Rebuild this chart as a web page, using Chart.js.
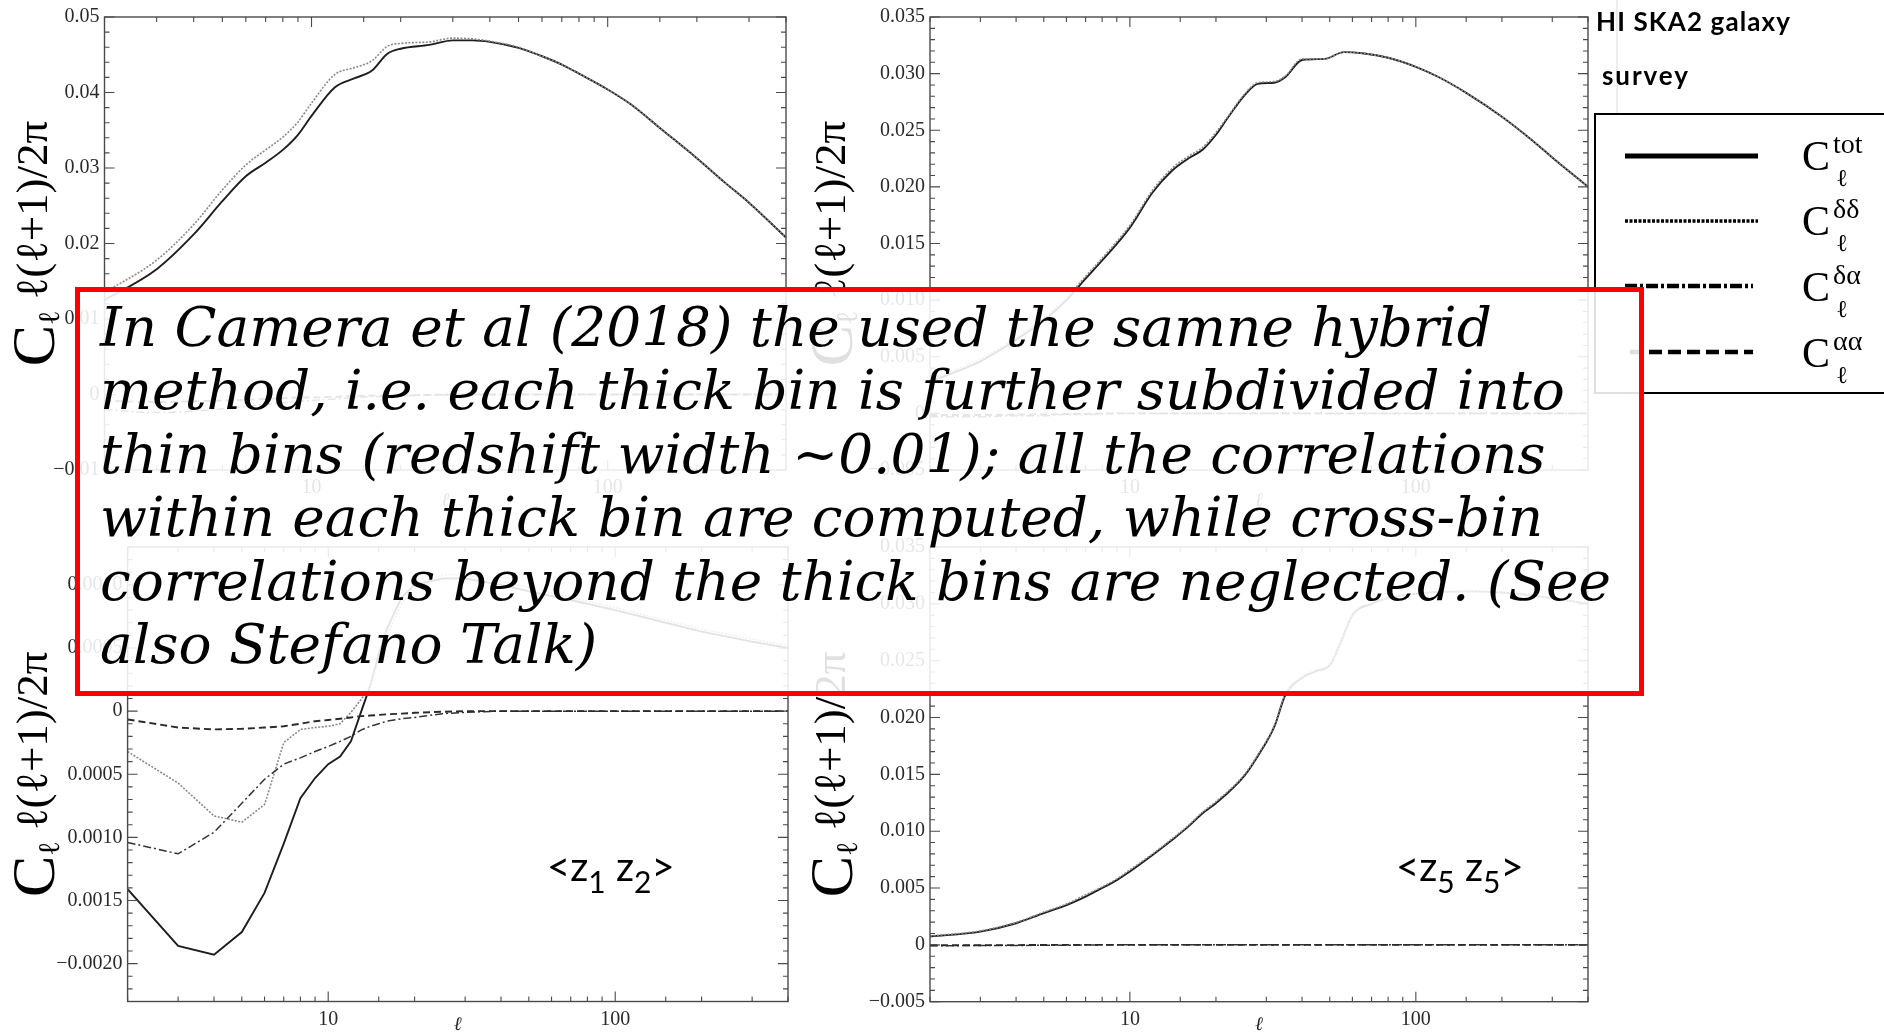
<!DOCTYPE html>
<html><head><meta charset="utf-8">
<title>HI SKA2 galaxy survey - angular power spectra</title>
<script src="https://cdn.jsdelivr.net/npm/chart.js@4.4.1/dist/chart.umd.min.js"></script>
<style>
html,body{margin:0;padding:0;background:#fff;}
body{width:1884px;height:1034px;position:relative;overflow:hidden;}
.panel{position:absolute;}
.panel canvas{display:block;}
#overlay{position:absolute;left:0;top:0;}
#box{position:absolute;left:75px;top:287px;width:1569px;height:409px;box-sizing:border-box;border:5px solid #ff0000;background:rgba(255,255,255,0.88);}
#box div{position:absolute;left:20px;white-space:nowrap;font-family:'DejaVu Serif',serif;font-style:italic;line-height:1;color:#000;}
</style></head><body>
<div class="panel" style="left:0px;top:0px"><canvas id="c0" width="800" height="510"></canvas></div>
<div class="panel" style="left:800px;top:0px"><canvas id="c1" width="800" height="510"></canvas></div>
<div class="panel" style="left:0px;top:530px"><canvas id="c2" width="800" height="504"></canvas></div>
<div class="panel" style="left:800px;top:530px"><canvas id="c3" width="800" height="504"></canvas></div>

<svg id="overlay" width="1884" height="1034" xmlns="http://www.w3.org/2000/svg">
  <line x1="1617" y1="0" x2="1617" y2="114" stroke="#dcdcdc" stroke-width="1"/>
  <text x="1596" y="31" font-family="Lato" font-weight="bold" font-size="26" textLength="194" lengthAdjust="spacing" fill="#000">HI SKA2 galaxy</text>
  <text x="1602" y="85" font-family="Lato" font-weight="bold" font-size="26" textLength="86" lengthAdjust="spacing" fill="#000">survey</text>
  <rect x="1595" y="114" width="300" height="279" fill="#fff" stroke="#000" stroke-width="2"/>
  <line x1="1625" y1="156" x2="1758" y2="156" stroke="#000" stroke-width="5"/>
  <line x1="1625" y1="221" x2="1758" y2="221" stroke="#000" stroke-width="3.5" stroke-dasharray="3 1.5"/>
  <line x1="1625" y1="286" x2="1753" y2="286" stroke="#000" stroke-width="4.5" stroke-dasharray="12 3 3 3"/>
  <line x1="1630" y1="352" x2="1753" y2="352" stroke="#000" stroke-width="4.5" stroke-dasharray="13 6"/>
  <g font-family="'Liberation Serif', serif" fill="#000">
    <text x="1802" y="170" font-size="42">C</text>
    <text x="1833" y="153" font-size="28">tot</text>
    <text x="1836" y="186" font-size="24">ℓ</text>
    <text x="1802" y="235" font-size="42">C</text>
    <text x="1833" y="218" font-size="28">δδ</text>
    <text x="1836" y="251" font-size="24">ℓ</text>
    <text x="1802" y="301" font-size="42">C</text>
    <text x="1833" y="284" font-size="28">δα</text>
    <text x="1836" y="317" font-size="24">ℓ</text>
    <text x="1802" y="367" font-size="42">C</text>
    <text x="1833" y="350" font-size="28">αα</text>
    <text x="1836" y="383" font-size="24">ℓ</text>
  </g>
  <text x="547" y="881" font-family="Lato" font-size="40" fill="#000">&lt;z<tspan font-size="30" dy="12">1</tspan><tspan dy="-12"> z</tspan><tspan font-size="30" dy="12">2</tspan><tspan dy="-12">&gt;</tspan></text>
  <text x="1396" y="881" font-family="Lato" font-size="40" fill="#000">&lt;z<tspan font-size="30" dy="12">5</tspan><tspan dy="-12"> z</tspan><tspan font-size="30" dy="12">5</tspan><tspan dy="-12">&gt;</tspan></text>
</svg>

<div id="box"></div>

<script>
// ---------------- DATA ----------------
const xTickLabels = [10, 100];

// top-left panel
const ellTL = [2,3,4,5,6,7,8,9,10,12,14,16,18,20,25,30,35,40,50,60,70,80,100,120,150,200,250,300,400];
const totTL = [0.0125,0.0166,0.0212,0.0256,0.0289,0.0307,0.0324,0.0344,0.0369,0.0407,0.0419,0.0429,0.0451,0.0458,0.0463,0.0469,0.0469,0.0467,0.0459,0.0448,0.0437,0.0425,0.0404,0.0384,0.0353,0.0313,0.0280,0.0254,0.0208];
const ddTL  = [0.0135,0.0178,0.0225,0.0271,0.0304,0.0324,0.0341,0.0361,0.0386,0.0424,0.0433,0.0442,0.0461,0.0465,0.0467,0.0472,0.0471,0.0468,0.0460,0.0448,0.0437,0.0425,0.0404,0.0384,0.0353,0.0313,0.0280,0.0254,0.0208];
const daTL  = [-0.0020,-0.0024,-0.0022,-0.0019,-0.0016,-0.0013,-0.0011,-0.0009,-0.0008,-0.0006,-0.0004,-0.0003,-0.0002,-0.00015,-0.0001,-0.00005,0,0,0,0,0,0,0,0,0,0,0,0,0];
const aaTL  = [-0.0008,-0.0010,-0.0009,-0.0008,-0.0007,-0.0006,-0.0005,-0.0004,-0.0004,-0.0003,-0.0002,-0.00015,-0.0001,-0.0001,-0.00005,0,0,0,0,0,0,0,0,0,0,0,0,0,0];
const yTicksTL  = [-0.01,0,0.01,0.02,0.03,0.04,0.05];
const yLabelsTL = ['−0.01','0','0.01','0.02','0.03','0.04','0.05'];

// top-right panel
const ellTR = [2,3,4,5,6,7,8,10,12,14,16,18,20,22,25,28,32,35,40,48,56,65,80,100,120,150,200,250,300,400];
const totTR = [0.0028,0.0046,0.0065,0.0082,0.0100,0.0119,0.0135,0.0164,0.0195,0.0214,0.0225,0.0233,0.0246,0.0261,0.0280,0.0291,0.0292,0.0297,0.0312,0.0313,0.0319,0.0318,0.0314,0.0306,0.0297,0.0283,0.0262,0.0243,0.0226,0.0200];
const ddTR  = [0.0030,0.0048,0.0067,0.0084,0.0102,0.0121,0.0137,0.0166,0.0197,0.0216,0.0227,0.0235,0.0248,0.0262,0.0281,0.0292,0.0293,0.0298,0.0313,0.0313,0.0319,0.0318,0.0314,0.0306,0.0297,0.0283,0.0262,0.0243,0.0226,0.0200];
const daTR  = [-0.0003,-0.0003,-0.0002,-0.0002,-0.0001,-0.0001,-0.00005,0,0,0,0,0,0,0,0,0,0,0,0,0,0,0,0,0,0,0,0,0,0,0];
const aaTR  = [-0.00015,-0.00015,-0.0001,-0.0001,-0.00005,-0.00005,0,0,0,0,0,0,0,0,0,0,0,0,0,0,0,0,0,0,0,0,0,0,0,0];
const yTicksTR  = [-0.005,0,0.005,0.010,0.015,0.020,0.025,0.030,0.035];
const yLabelsTR = ['−0.005','0','0.005','0.010','0.015','0.020','0.025','0.030','0.035'];

// bottom-left panel  <z1 z2>
const ellBL = [2,3,4,5,6,7,8,9,10,11,12,13,14,15,16,18,20,25,30,40,50,70,100,150,200,300,400];
const totBL = [-0.00141,-0.00186,-0.00193,-0.00175,-0.00144,-0.00105,-0.00069,-0.00053,-0.00042,-0.00036,-0.00024,-0.00001,0.0002,0.00045,0.00065,0.0009,0.0010,0.00105,0.00105,0.0010,0.00095,0.00088,0.0008,0.0007,0.00063,0.00055,0.0005];
const ddBL  = [-0.00032,-0.00057,-0.00083,-0.00088,-0.00074,-0.00025,-0.000145,-0.00013,-0.00012,-0.0001,-0.00001,0.00009,0.0002,0.0004,0.0006,0.00085,0.001,0.00108,0.00108,0.00103,0.00098,0.0009,0.00082,0.00072,0.00065,0.00057,0.00052];
const daBL  = [-0.00104,-0.00113,-0.00096,-0.00073,-0.00054,-0.00042,-0.00037,-0.00032,-0.00028,-0.00024,-0.0002,-0.00015,-0.00012,-0.0001,-0.00008,-0.00006,-0.00005,-0.00002,-0.00001,0,0,0,0,0,0,0,0];
const aaBL  = [-0.000066,-0.00013,-0.000145,-0.00014,-0.00013,-0.00012,-0.0001,-0.00008,-0.00007,-0.00006,-0.00005,-0.00004,-0.000035,-0.00003,-0.000025,-0.00002,-0.000013,-0.000005,0,0,0,0,0,0,0,0,0];
const yTicksBL  = [-0.002,-0.0015,-0.001,-0.0005,0,0.0005,0.001];
const yLabelsBL = ['−0.0020','0.0015','0.0010','0.0005','0','0.0005','0.0010'];

// bottom-right panel  <z5 z5>
const ellBR = [2,3,4,5,6,7,8,9,10,12,14,16,18,20,25,28,32,35,40,45,50,55,60,70,80,100,150,200,300,400];
const totBR = [0.00073,0.00117,0.0019,0.0028,0.0035,0.00425,0.0050,0.0057,0.00645,0.0079,0.0092,0.0104,0.0116,0.01246,0.0148,0.0166,0.0192,0.0220,0.0235,0.0241,0.0246,0.0268,0.0290,0.0300,0.0305,0.0309,0.0311,0.0310,0.0305,0.0300];
const ddBR  = [0.00078,0.00123,0.00197,0.00288,0.0036,0.0044,0.0051,0.0058,0.0066,0.0080,0.0093,0.0105,0.0117,0.0126,0.0149,0.0167,0.0193,0.0221,0.0236,0.0242,0.0247,0.0269,0.0291,0.0301,0.0305,0.0309,0.0311,0.0310,0.0305,0.0300];
const daBR  = [-0.00008,-0.00006,-0.00005,-0.00004,-0.00003,-0.00002,0,0,0,0,0,0,0,0,0,0,0,0,0,0,0,0,0,0,0,0,0,0,0,0];
const aaBR  = [-0.00004,-0.00003,-0.00002,-0.00001,0,0,0,0,0,0,0,0,0,0,0,0,0,0,0,0,0,0,0,0,0,0,0,0,0,0];
const yTicksBR  = [-0.005,0,0.005,0.010,0.015,0.020,0.025,0.030,0.035];
const yLabelsBR = ['−0.005','0','0.005','0.010','0.015','0.020','0.025','0.030','0.035'];

const boxLines = [
  'In Camera et al (2018) the used the samne hybrid',
  'method, i.e. each thick bin is further subdivided into',
  'thin bins (redshift width ~0.01); all the correlations',
  'within each thick bin are computed, while cross-bin',
  'correlations beyond the thick bins are neglected. (See',
  'also Stefano Talk)'
];

// ---------------- STYLE / LAYOUT ----------------
const seriesStyle = {
  aa:  {label:'Cℓ αα',  color:'#2a2a2a', width:1.9, dash:[7,4]},
  da:  {label:'Cℓ δα',  color:'#333333', width:1.5, dash:[8,3,2,3]},
  dd:  {label:'Cℓ δδ',  color:'#8a8a8a', width:1.6, dash:[2,1.5]},
  tot: {label:'Cℓ tot', color:'#1e1e1e', width:1.9, dash:[]}
};

const panels = [
  {canvas:'c0', yW:104.5, padTop:16, padRight:14, xH:40, ymin:-0.01, ymax:0.05, minor:0.002, yTicks:yTicksTL, yLabels:yLabelsTL,
   ell:ellTL, s:{aa:aaTL, da:daTL, dd:ddTL, tot:totTL}, smooth:true, titleX:37},
  {canvas:'c1', yW:130, padTop:16, padRight:12, xH:40, ymin:-0.005, ymax:0.035, minor:0.001, yTicks:yTicksTR, yLabels:yLabelsTR,
   ell:ellTR, s:{aa:aaTR, da:daTR, dd:ddTR, tot:totTR}, smooth:true, titleX:35},
  {canvas:'c2', yW:127.6, padTop:17, padRight:12, xH:32.5, ymin:-0.0023, ymax:0.0013, minor:0.0001, yTicks:yTicksBL, yLabels:yLabelsBL,
   ell:ellBL, s:{aa:aaBL, da:daBL, dd:ddBL, tot:totBL}, smooth:false, titleX:37},
  {canvas:'c3', yW:130, padTop:16, padRight:12, xH:32.3, ymin:-0.005, ymax:0.035, minor:0.001, yTicks:yTicksBR, yLabels:yLabelsBR,
   ell:ellBR, s:{aa:aaBR, da:daBR, dd:ddBR, tot:totBR}, smooth:true, titleX:35}
];

const framePlugin = {
  id: 'frameTicks',
  afterDatasetsDraw(chart, args, o) {
    const {ctx, chartArea: a} = chart;
    const xs = chart.scales.x, ys = chart.scales.y;
    ctx.save();
    ctx.strokeStyle = '#4a4a4a';
    ctx.lineWidth = 1.4;
    ctx.strokeRect(a.left, a.top, a.right - a.left, a.bottom - a.top);
    ctx.lineWidth = 1.1;
    ctx.beginPath();
    xs.ticks.forEach(t => {
      const lg = Math.log10(t.value);
      const major = Math.abs(lg - Math.round(lg)) < 1e-6;
      const L = major ? 10 : 5;
      const px = xs.getPixelForValue(t.value);
      ctx.moveTo(px, a.bottom); ctx.lineTo(px, a.bottom - L);
      ctx.moveTo(px, a.top); ctx.lineTo(px, a.top + L);
    });
    const step = o.minor;
    const n0 = Math.ceil(ys.min / step - 1e-6), n1 = Math.floor(ys.max / step + 1e-6);
    for (let n = n0; n <= n1; n++) {
      const v = n * step;
      const major = ys.ticks.some(t => Math.abs(t.value - v) < step * 1e-3);
      const L = major ? 10 : 5;
      const py = ys.getPixelForValue(v);
      ctx.moveTo(a.left, py); ctx.lineTo(a.left + L, py);
      ctx.moveTo(a.right, py); ctx.lineTo(a.right - L, py);
    }
    ctx.stroke();

    // rotated y-axis title  C_ℓ ℓ(ℓ+1)/2π
    const parts = [
      {t:'C', f:"62px 'Liberation Serif', serif", dy:17},
      {t:'ℓ', f:"30px 'Liberation Serif', serif", dy:22},
      {t:' ℓ(ℓ+1)/2π', f:"45px 'Liberation Serif', serif", dy:10}
    ];
    let total = 0;
    parts.forEach(p => { ctx.font = p.f; p.w = ctx.measureText(p.t).width; total += p.w; });
    ctx.translate(o.titleX, (a.top + a.bottom) / 2);
    ctx.rotate(-Math.PI / 2);
    ctx.fillStyle = '#000';
    ctx.textBaseline = 'alphabetic';
    ctx.textAlign = 'left';
    let xx = -total / 2;
    parts.forEach(p => { ctx.font = p.f; ctx.fillText(p.t, xx, p.dy); xx += p.w; });
    ctx.restore();
  }
};

const tickFont = {family:"'Liberation Serif', serif", size:20};

panels.forEach(p => {
  const datasets = ['aa','da','dd','tot'].map(k => ({
    label: seriesStyle[k].label,
    data: p.ell.map((l, i) => ({x: l, y: p.s[k][i]})),
    borderColor: seriesStyle[k].color,
    borderWidth: seriesStyle[k].width,
    borderDash: seriesStyle[k].dash,
    pointRadius: 0,
    fill: false,
    tension: 0,
    cubicInterpolationMode: p.smooth ? 'monotone' : 'default'
  }));
  new Chart(document.getElementById(p.canvas), {
    type: 'line',
    data: {datasets},
    plugins: [framePlugin],
    options: {
      responsive: false,
      animation: false,
      parsing: true,
      layout: {padding: {top: p.padTop, right: p.padRight, left: 0, bottom: 0}},
      plugins: {
        legend: {display: false},
        tooltip: {enabled: false},
        frameTicks: {minor: p.minor, titleX: p.titleX}
      },
      scales: {
        x: {
          type: 'logarithmic', min: 2, max: 400, position: 'bottom',
          grid: {display: false, drawTicks: false},
          border: {display: false},
          ticks: {
            autoSkip: false, maxRotation: 0, padding: 6, color: '#2a2a2a', font: tickFont,
            callback: (v) => xTickLabels.some(t => Math.abs(t - v) < 1e-6) ? String(v) : ''
          },
          title: {display: true, text: 'ℓ', color: '#222', padding: {top: 0, bottom: 0},
                  font: {family: "'Liberation Serif', serif", size: 19, style: 'italic', lineHeight: 1}},
          afterFit: (s) => { s.height = p.xH; }
        },
        y: {
          type: 'linear', min: p.ymin, max: p.ymax,
          grid: {display: false, drawTicks: false},
          border: {display: false},
          afterBuildTicks: (s) => { s.ticks = p.yTicks.map(v => ({value: v})); },
          ticks: {
            padding: 5, color: '#2a2a2a', font: tickFont,
            callback: (v) => {
              const i = p.yTicks.findIndex(t => Math.abs(t - v) < 1e-9);
              return i >= 0 ? p.yLabels[i] : '';
            }
          },
          afterFit: (s) => { s.width = p.yW; }
        }
      }
    }
  });
});

// --------- red annotation box (text fitted to the reference line widths) ---------
(function () {
  const box = document.getElementById('box');
  const targets = [1394, 1478, 1435, 1457, 1492];
  const baselines = [346, 409.5, 473, 536.5, 600, 663.5];
  const mc = document.createElement('canvas').getContext('2d');
  mc.font = "italic 100px 'DejaVu Serif'";
  let sum = 0;
  targets.forEach((t, i) => { sum += t / mc.measureText(boxLines[i]).width; });
  const fs = Math.round((sum / targets.length) * 100 * 10) / 10;
  boxLines.forEach((txt, i) => {
    const d = document.createElement('div');
    d.textContent = txt;
    d.style.fontSize = fs + 'px';
    d.style.top = (baselines[i] - 292 - 0.846 * fs) + 'px';
    box.appendChild(d);
  });
})();
</script>
</body></html>
